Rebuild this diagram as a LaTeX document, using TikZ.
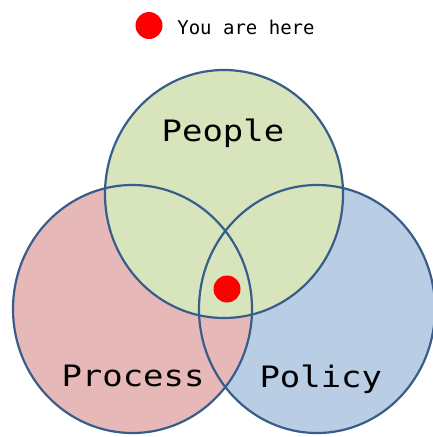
\documentclass[tikz,border=0pt]{standalone}
\usepackage{fontspec}
\newfontfamily\labelfont{DejaVu Sans Mono}
\definecolor{peoplefill}{RGB}{215,228,188}
\definecolor{processfill}{RGB}{230,185,184}
\definecolor{policyfill}{RGB}{185,205,229}
\definecolor{ringline}{RGB}{56,93,138}
\definecolor{markred}{RGB}{255,0,0}
\begin{document}
\begin{tikzpicture}[x=1pt,y=-1pt,
  ring/.style={draw=ringline,line width=2.2pt},
  setlabel/.style={inner sep=0pt,anchor=base,font=\labelfont\fontsize{29.5}{31}\selectfont},
  legendlabel/.style={inner sep=0pt,anchor=base,font=\labelfont\fontsize{19}{21}\selectfont},
  marker/.style={circle,fill=markred,inner sep=0pt,minimum size=27pt}]
\useasboundingbox (0,0) rectangle (433,437);
% fills: policy under process under people
\fill[policyfill] (317,309) ellipse [x radius=118,y radius=124];
\fill[processfill] (132.5,309) ellipse [x radius=119.5,y radius=124];
\fill[peoplefill] (224,194) ellipse [x radius=119,y radius=124];
% outlines of all three sets
\draw[ring] (317,309) ellipse [x radius=118,y radius=124];
\draw[ring] (132.5,309) ellipse [x radius=119.5,y radius=124];
\draw[ring] (224,194) ellipse [x radius=119,y radius=124];
% set names
\node[setlabel] (people) at (223,141.7) {\scalebox{1.15}[1]{People}};
\node[setlabel] (process) at (133,386.7) {\scalebox{1.15}[1]{Process}};
\node[setlabel] (policy) at (320.8,387.3) {\scalebox{1.15}[1]{Policy}};
% position marker and legend
\node[marker] (here) at (227,289) {};
\node[marker] (legenddot) at (149,25.5) {};
\node[legendlabel] (legend) at (246,34.3) {You are here};
\end{tikzpicture}
\end{document}
